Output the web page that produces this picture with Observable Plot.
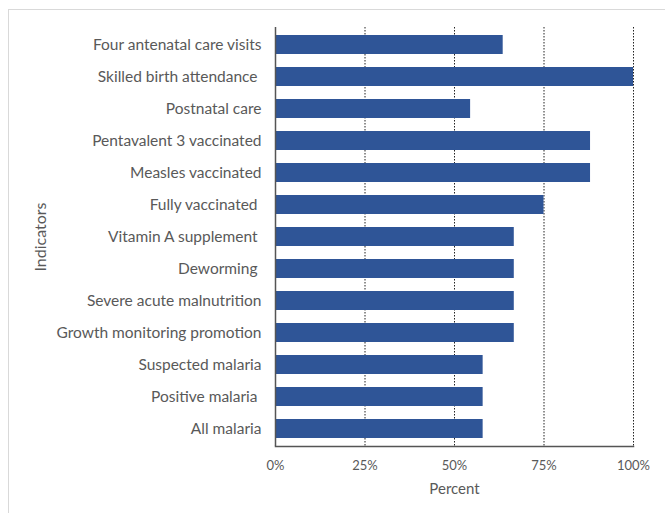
<!DOCTYPE html>
<html>
<head>
<meta charset="utf-8">
<script src="https://cdn.jsdelivr.net/npm/d3@7"></script>
<script src="https://cdn.jsdelivr.net/npm/@observablehq/plot@0.6"></script>
<style>
  html, body { margin: 0; padding: 0; background: #fff; }
  #wrap { position: relative; width: 665px; height: 513px; overflow: hidden; }
  #border { position: absolute; left: 8px; top: 9px; width: 700px; height: 600px; border-left: 1px solid #d9d9d9; border-top: 1px solid #d9d9d9; }
  #chart { position: absolute; left: 0; top: 0; }
</style>
</head>
<body>
<div id="wrap"><div id="border"></div><div id="chart"></div></div>
<script>
const indicators = [
  "Four antenatal care visits",
  "Skilled birth attendance\u00a0",
  "Postnatal care",
  "Pentavalent 3 vaccinated",
  "Measles vaccinated",
  "Fully vaccinated\u00a0",
  "Vitamin A supplement\u00a0",
  "Deworming\u00a0",
  "Severe acute malnutrition",
  "Growth monitoring promotion",
  "Suspected malaria",
  "Positive malaria\u00a0",
  "All malaria"
];
const percents = [63.6, 100, 54.5, 88, 88, 75, 66.7, 66.7, 66.7, 66.7, 58, 58, 58];
const xTicks = [0, 25, 50, 75, 100];

const data = indicators.map((name, i) => ({name, value: percents[i]}));

const chart = Plot.plot({
  width: 665,
  height: 513,
  marginLeft: 275,
  marginRight: 32,
  marginTop: 27,
  marginBottom: 67,
  style: {fontFamily: "Lato, sans-serif", fontSize: "15.5px", color: "#595959", background: "transparent"},
  x: {domain: [0, 100], ticks: xTicks, tickFormat: d => d + "%"},
  y: {domain: indicators, paddingInner: 0.41, paddingOuter: 0.205, label: null},
  marks: [
    Plot.ruleX(xTicks.slice(1), {stroke: "#222", strokeWidth: 1, strokeDasharray: "1.5,1.5"}),
    Plot.barX(data, {y: "name", x: "value", fill: "#2F5597"}),
    Plot.ruleX([0], {stroke: "#555", strokeWidth: 1.5}),
    Plot.frame({anchor: "bottom", stroke: "#555", strokeWidth: 1.5}),
    Plot.axisX({ticks: xTicks, tickSize: 0, tickPadding: 14, label: null, tickFormat: d => d + "%", fontSize: 13}),
    Plot.axisY({tickSize: 0, tickPadding: 14, label: null, fontSize: 15.5}),
    Plot.text(["Percent"], {frameAnchor: "bottom", dy: 47, fontSize: 15, fill: "#595959"}),
    Plot.text(["Indicators"], {frameAnchor: "left", textAnchor: "middle", dx: -235, rotate: -90, fontSize: 16, fill: "#595959"})
  ]
});
document.getElementById("chart").appendChild(chart);
</script>
</body>
</html>
